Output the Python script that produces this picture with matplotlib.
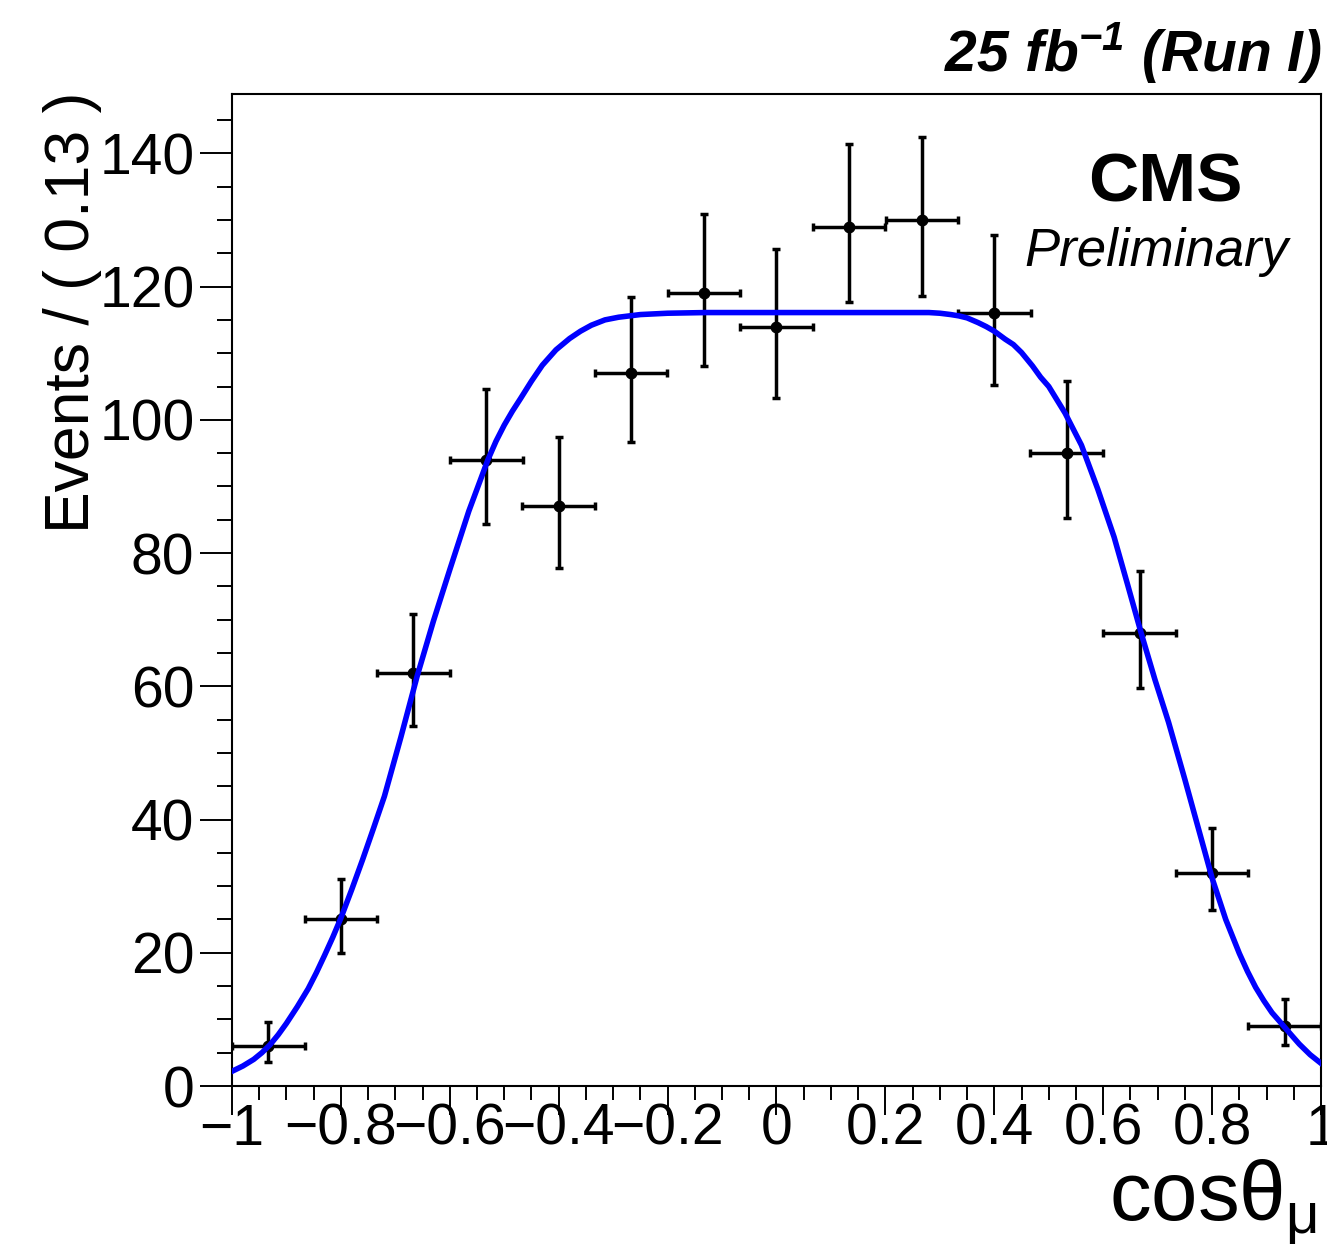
import matplotlib
matplotlib.use('Agg')
import matplotlib.pyplot as plt
from matplotlib.ticker import MultipleLocator, FuncFormatter

plt.rcParams['font.family'] = ['Liberation Sans', 'DejaVu Sans']

# data points (bin centres, counts, asymmetric poisson errors)
bin_centres = [-0.933, -0.8, -0.667, -0.533, -0.4, -0.267, -0.133, 0.0,
               0.133, 0.267, 0.4, 0.533, 0.667, 0.8, 0.933]
half_width = 0.0667
counts = [6, 25, 62, 94, 87, 107, 119, 114, 129, 130, 116, 95, 68, 32, 9]
err_lo = [2.4, 5.0, 7.9, 9.7, 9.3, 10.3, 10.9, 10.7, 11.3, 11.4, 10.8, 9.7, 8.2, 5.6, 2.9]
err_hi = [3.6, 6.1, 8.9, 10.7, 10.4, 11.4, 11.9, 11.7, 12.4, 12.4, 11.8, 10.8, 9.3, 6.7, 4.1]

# fitted curve
fit_x = [-1.0, -0.98, -0.96, -0.945, -0.93, -0.915, -0.9, -0.88, -0.86, -0.845, -0.83,
         -0.815, -0.8, -0.78, -0.76, -0.74, -0.72, -0.69, -0.66, -0.63, -0.6, -0.565,
         -0.53, -0.515, -0.5, -0.485, -0.47, -0.45, -0.43, -0.405, -0.38, -0.36, -0.34,
         -0.315, -0.29, -0.25, -0.2, -0.13, 0.0, 0.15, 0.28, 0.30, 0.32, 0.335, 0.35,
         0.37, 0.385, 0.4, 0.42, 0.435, 0.45, 0.47, 0.485, 0.5, 0.53, 0.56, 0.59,
         0.62, 0.645, 0.67, 0.695, 0.72, 0.75, 0.775, 0.8, 0.825, 0.85, 0.865, 0.88,
         0.895, 0.91, 0.925, 0.945, 0.96, 0.98, 1.0]
fit_y = [2.2, 3.0, 4.0, 5.0, 6.2, 7.7, 9.4, 11.9, 14.6, 17.0, 19.6,
         22.3, 25.2, 29.5, 34.0, 38.7, 43.5, 52.3, 61.5, 69.8, 77.5, 86.3,
         94.0, 96.8, 99.2, 101.3, 103.2, 105.8, 108.2, 110.5, 112.2, 113.3, 114.2,
         115.0, 115.4, 115.8, 116.0, 116.1, 116.1, 116.1, 116.1, 116.0, 115.8, 115.6, 115.3,
         114.6, 114.0, 113.3, 112.1, 111.3, 110.1, 108.1, 106.4, 105.0, 101.0, 96.2, 89.6,
         82.4, 75.2, 67.9, 61.0, 54.6, 46.0, 38.6, 31.2, 25.0, 19.9, 17.2, 14.8,
         12.8, 11.0, 9.6, 7.7, 6.3, 4.7, 3.4]

fig = plt.figure(figsize=(13.27, 12.49), dpi=100)
ax = fig.add_axes([0.1748, 0.1305, 0.8207, 0.7942])

ax.errorbar(bin_centres, counts, xerr=half_width, yerr=[err_lo, err_hi],
            fmt='o', color='black', markersize=7.5, elinewidth=2.5,
            capsize=3, capthick=2.5, zorder=2)
ax.plot(fit_x, fit_y, color='#0000ff', linewidth=4, zorder=3)

ax.set_xlim(-1, 1)
ax.set_ylim(0, 148.9)

ax.xaxis.set_major_locator(MultipleLocator(0.2))
ax.xaxis.set_minor_locator(MultipleLocator(0.05))
ax.yaxis.set_major_locator(MultipleLocator(20))
ax.yaxis.set_minor_locator(MultipleLocator(5))
ax.xaxis.set_major_formatter(FuncFormatter(lambda v, p: ('%g' % round(v, 2)).replace('-', '\u2212')))
ax.yaxis.set_major_formatter(FuncFormatter(lambda v, p: '%d' % v))

ax.tick_params(axis='x', which='major', direction='out', length=21, width=1.4,
               labelsize=41, pad=-9)
ax.tick_params(axis='x', which='minor', direction='out', length=10, width=1.4)
ax.tick_params(axis='y', which='major', direction='out', length=23, width=1.4,
               labelsize=41, pad=4)
ax.tick_params(axis='y', which='minor', direction='out', length=11, width=1.4)
for s in ax.spines.values():
    s.set_linewidth(1.5)

# axis titles
fig.text(102 / 1327, 1 - 92 / 1249, 'Events / ( 0.13 )', rotation=90,
         ha='right', va='top', fontsize=45)
fig.text(1317 / 1327, 1 - 1220 / 1249, 'cos\u03b8$_{\\mathregular{\u03bc}}$',
         ha='right', va='baseline', fontsize=60)

# CMS labels
fig.text(1322 / 1327, 1 - 72 / 1249, '25 fb$^{\\mathregular{-1}}$ (Run I)',
         ha='right', va='baseline', fontsize=41, fontweight='bold', style='italic')
fig.text(1165 / 1327, 1 - 202 / 1249, 'CMS', ha='center', va='baseline',
         fontsize=50, fontweight='bold')
fig.text(1156 / 1327, 1 - 266 / 1249, 'Preliminary', ha='center', va='baseline',
         fontsize=38, style='italic')

fig.savefig('out.png', dpi=100)
